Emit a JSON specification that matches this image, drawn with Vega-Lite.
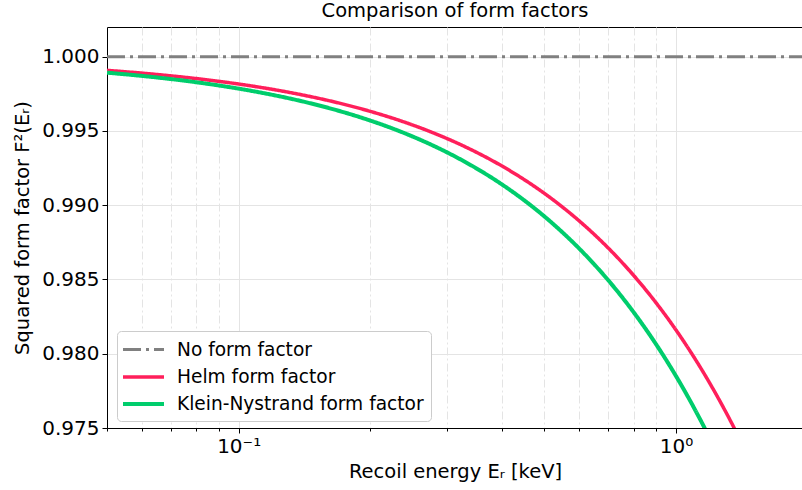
{
  "$schema": "https://vega.github.io/schema/vega-lite/v6.json",
  "width": 696,
  "height": 401,
  "autosize": {"type": "none"},
  "padding": {"left": 107, "top": 27, "right": 0, "bottom": 62},
  "background": "white",
  "config": {
    "font": "DejaVu Sans",
    "view": {"stroke": "black", "strokeWidth": 1},
    "axis": {"labelFont": "DejaVu Sans", "titleFont": "DejaVu Sans", "labelColor": "black", "titleColor": "black", "titleFontWeight": "normal", "domainColor": "black", "tickColor": "black"}
  },
  "title": {"text": "Comparison of form factors", "fontSize": 19.5, "fontWeight": "normal", "font": "DejaVu Sans", "color": "black", "offset": 6},
  "data": {
    "values": [
      {"E": 0.05, "F": 1.0, "series": "No form factor"},
      {"E": 1.952, "F": 1.0, "series": "No form factor"},
      {"E": 0.05, "F": 0.99908, "series": "Helm form factor"},
      {"E": 0.06, "F": 0.998896, "series": "Helm form factor"},
      {"E": 0.07, "F": 0.998712, "series": "Helm form factor"},
      {"E": 0.08, "F": 0.998528, "series": "Helm form factor"},
      {"E": 0.09, "F": 0.998344, "series": "Helm form factor"},
      {"E": 0.1, "F": 0.99816, "series": "Helm form factor"},
      {"E": 0.11, "F": 0.997976, "series": "Helm form factor"},
      {"E": 0.125, "F": 0.9977, "series": "Helm form factor"},
      {"E": 0.14, "F": 0.997424, "series": "Helm form factor"},
      {"E": 0.16, "F": 0.997056, "series": "Helm form factor"},
      {"E": 0.18, "F": 0.996688, "series": "Helm form factor"},
      {"E": 0.2, "F": 0.99632, "series": "Helm form factor"},
      {"E": 0.225, "F": 0.99586, "series": "Helm form factor"},
      {"E": 0.25, "F": 0.9954, "series": "Helm form factor"},
      {"E": 0.28, "F": 0.994848, "series": "Helm form factor"},
      {"E": 0.32, "F": 0.994112, "series": "Helm form factor"},
      {"E": 0.36, "F": 0.993376, "series": "Helm form factor"},
      {"E": 0.4, "F": 0.99264, "series": "Helm form factor"},
      {"E": 0.45, "F": 0.99172, "series": "Helm form factor"},
      {"E": 0.5, "F": 0.9908, "series": "Helm form factor"},
      {"E": 0.55, "F": 0.98988, "series": "Helm form factor"},
      {"E": 0.6, "F": 0.98896, "series": "Helm form factor"},
      {"E": 0.65, "F": 0.98804, "series": "Helm form factor"},
      {"E": 0.7, "F": 0.98712, "series": "Helm form factor"},
      {"E": 0.75, "F": 0.9862, "series": "Helm form factor"},
      {"E": 0.8, "F": 0.98528, "series": "Helm form factor"},
      {"E": 0.85, "F": 0.98436, "series": "Helm form factor"},
      {"E": 0.9, "F": 0.98344, "series": "Helm form factor"},
      {"E": 0.95, "F": 0.98252, "series": "Helm form factor"},
      {"E": 1.0, "F": 0.9816, "series": "Helm form factor"},
      {"E": 1.05, "F": 0.98068, "series": "Helm form factor"},
      {"E": 1.1, "F": 0.97976, "series": "Helm form factor"},
      {"E": 1.15, "F": 0.97884, "series": "Helm form factor"},
      {"E": 1.2, "F": 0.97792, "series": "Helm form factor"},
      {"E": 1.25, "F": 0.977, "series": "Helm form factor"},
      {"E": 1.3, "F": 0.97608, "series": "Helm form factor"},
      {"E": 1.35, "F": 0.97516, "series": "Helm form factor"},
      {"E": 1.4, "F": 0.97424, "series": "Helm form factor"},
      {"E": 0.05, "F": 0.998925, "series": "Klein-Nystrand form factor"},
      {"E": 0.06, "F": 0.99871, "series": "Klein-Nystrand form factor"},
      {"E": 0.07, "F": 0.998495, "series": "Klein-Nystrand form factor"},
      {"E": 0.08, "F": 0.99828, "series": "Klein-Nystrand form factor"},
      {"E": 0.09, "F": 0.998065, "series": "Klein-Nystrand form factor"},
      {"E": 0.1, "F": 0.99785, "series": "Klein-Nystrand form factor"},
      {"E": 0.11, "F": 0.997635, "series": "Klein-Nystrand form factor"},
      {"E": 0.125, "F": 0.997313, "series": "Klein-Nystrand form factor"},
      {"E": 0.14, "F": 0.99699, "series": "Klein-Nystrand form factor"},
      {"E": 0.16, "F": 0.99656, "series": "Klein-Nystrand form factor"},
      {"E": 0.18, "F": 0.99613, "series": "Klein-Nystrand form factor"},
      {"E": 0.2, "F": 0.9957, "series": "Klein-Nystrand form factor"},
      {"E": 0.225, "F": 0.995163, "series": "Klein-Nystrand form factor"},
      {"E": 0.25, "F": 0.994625, "series": "Klein-Nystrand form factor"},
      {"E": 0.28, "F": 0.99398, "series": "Klein-Nystrand form factor"},
      {"E": 0.32, "F": 0.99312, "series": "Klein-Nystrand form factor"},
      {"E": 0.36, "F": 0.99226, "series": "Klein-Nystrand form factor"},
      {"E": 0.4, "F": 0.9914, "series": "Klein-Nystrand form factor"},
      {"E": 0.45, "F": 0.990325, "series": "Klein-Nystrand form factor"},
      {"E": 0.5, "F": 0.98925, "series": "Klein-Nystrand form factor"},
      {"E": 0.55, "F": 0.988175, "series": "Klein-Nystrand form factor"},
      {"E": 0.6, "F": 0.9871, "series": "Klein-Nystrand form factor"},
      {"E": 0.65, "F": 0.986025, "series": "Klein-Nystrand form factor"},
      {"E": 0.7, "F": 0.98495, "series": "Klein-Nystrand form factor"},
      {"E": 0.75, "F": 0.983875, "series": "Klein-Nystrand form factor"},
      {"E": 0.8, "F": 0.9828, "series": "Klein-Nystrand form factor"},
      {"E": 0.85, "F": 0.981725, "series": "Klein-Nystrand form factor"},
      {"E": 0.9, "F": 0.98065, "series": "Klein-Nystrand form factor"},
      {"E": 0.95, "F": 0.979575, "series": "Klein-Nystrand form factor"},
      {"E": 1.0, "F": 0.9785, "series": "Klein-Nystrand form factor"},
      {"E": 1.05, "F": 0.977425, "series": "Klein-Nystrand form factor"},
      {"E": 1.1, "F": 0.97635, "series": "Klein-Nystrand form factor"},
      {"E": 1.15, "F": 0.975275, "series": "Klein-Nystrand form factor"},
      {"E": 1.2, "F": 0.9742, "series": "Klein-Nystrand form factor"}
    ]
  },
  "mark": {"type": "line", "clip": true, "strokeCap": "butt", "interpolate": "monotone"},
  "encoding": {
    "x": {
      "field": "E", "type": "quantitative",
      "scale": {"type": "log", "domain": [0.05, 1.952], "nice": false},
      "axis": {
        "title": "Recoil energy Eᵣ [keV]",
        "titleFontSize": 19.5, "labelFontSize": 20,
        "values": [0.05, 0.06, 0.07, 0.08, 0.09, 0.1, 0.2, 0.3, 0.4, 0.5, 0.6, 0.7, 0.8, 0.9, 1],
        "labelExpr": "datum.value == 0.1 ? '10⁻¹' : (datum.value == 1 ? '10⁰' : '')",
        "labelOverlap": false,
        "labelPadding": 3,
        "titlePadding": 6,
        "tickSize": {"condition": {"test": "datum.value == 0.1 || datum.value == 1", "value": 5}, "value": 3},
        "grid": true,
        "gridColor": "#e4e4e4",
        "gridWidth": 1,
        "gridDash": {"condition": {"test": "datum.value == 0.1 || datum.value == 1", "value": []}, "value": [8, 3, 2, 3]}
      }
    },
    "y": {
      "field": "F", "type": "quantitative",
      "scale": {"domain": [0.975, 1.002], "nice": false, "zero": false},
      "axis": {
        "title": "Squared form factor F²(Eᵣ)",
        "titleFontSize": 19.5, "labelFontSize": 20,
        "values": [0.975, 0.98, 0.985, 0.99, 0.995, 1.0],
        "format": ".3f",
        "tickSize": 5,
        "labelPadding": 3,
        "titlePadding": 9,
        "grid": true,
        "gridColor": "#e4e4e4",
        "gridWidth": 1
      }
    },
    "color": {
      "field": "series", "type": "nominal",
      "scale": {"domain": ["No form factor", "Helm form factor", "Klein-Nystrand form factor"], "range": ["#808080", "#FF1F5B", "#00CD6C"]},
      "legend": {
        "title": null, "orient": "none", "legendX": 10, "legendY": 304,
        "symbolType": "M-1.3,0H2.8", "symbolSize": 400,
        "labelFontSize": 18.6, "labelFont": "DejaVu Sans", "labelColor": "black", "labelLimit": 500,
        "fillColor": "white", "strokeColor": "#cccccc", "cornerRadius": 4, "padding": 7, "rowPadding": 5, "labelOffset": 29
      }
    },
    "strokeDash": {
      "field": "series", "type": "nominal",
      "scale": {"domain": ["No form factor", "Helm form factor", "Klein-Nystrand form factor"], "range": [[18, 5, 3, 5], [1, 0], [1, 0]]}
    },
    "strokeWidth": {
      "field": "series", "type": "nominal",
      "scale": {"domain": ["No form factor", "Helm form factor", "Klein-Nystrand form factor"], "range": [3, 4, 4]}
    }
  }
}
